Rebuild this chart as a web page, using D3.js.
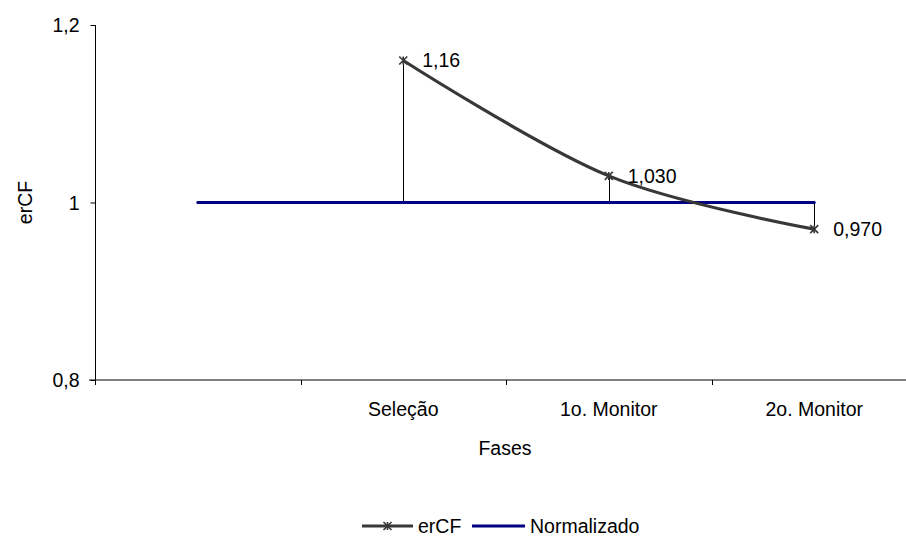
<!DOCTYPE html>
<html>
<head>
<meta charset="utf-8">
<script src="https://cdn.jsdelivr.net/npm/d3@7"></script>
<style>
  html, body { margin: 0; padding: 0; background: #fff; }
  svg { display: block; }
  text { font-family: "Liberation Sans", Arial, sans-serif; fill: #000; }
</style>
</head>
<body>
<svg id="chart" width="906" height="538"></svg>
<script>
// ---- data ----
const categories = ["", "Seleção", "1o. Monitor", "2o. Monitor"];
const erCF = [null, 1.16, 1.03, 0.97];
const normalizado = [1, 1, 1, 1];
const erCFLabels = [null, "1,16", "1,030", "0,970"];
const yTicks = [0.8, 1, 1.2];
const yTickLabels = ["0,8", "1", "1,2"];
const seriesNames = ["erCF", "Normalizado"];
const xTitle = "Fases";
const yTitle = "erCF";

// ---- layout ----
const svg = d3.select("#chart");
const fontSize = 19.5;
const colErcf = "#383838";
const colNorm = "#000080";

const x = d3.scaleBand().domain(categories).range([95, 917]).padding(0);
const cx = c => x(c) + x.bandwidth() / 2;
const y = d3.scaleLinear().domain([0.8, 1.2]).range([380, 25]);

// x axis line (gray)
svg.append("line")
  .attr("x1", 89).attr("x2", 917)
  .attr("y1", y(0.8)).attr("y2", y(0.8))
  .attr("stroke", "#808080").attr("stroke-width", 2);

// x ticks at band edges
svg.selectAll(".xtick").data(categories).enter().append("line")
  .attr("x1", d => Math.round(x(d)) + 0.5).attr("x2", d => Math.round(x(d)) + 0.5)
  .attr("y1", y(0.8)).attr("y2", y(0.8) + 5)
  .attr("stroke", "#000").attr("stroke-width", 1);

// y axis
const yAxis = d3.axisLeft(y).tickValues(yTicks).tickSize(5).tickPadding(10)
  .tickFormat((d, i) => yTickLabels[i]);
const gy = svg.append("g").attr("transform", "translate(95.5,0)").call(yAxis);
gy.select(".domain").attr("stroke", "#000").attr("d", `M0,${y(1.2)}V${y(0.8)}`);
gy.selectAll(".tick line").attr("stroke", "#000");
gy.selectAll(".tick text").attr("font-size", fontSize).attr("fill", "#000")
  .attr("font-family", "Liberation Sans, Arial, sans-serif")
  .attr("dy", "0.35em").attr("x", -16);

// category labels
svg.selectAll(".xlab").data(categories).enter().append("text")
  .attr("x", d => cx(d)).attr("y", 416)
  .attr("text-anchor", "middle").attr("font-size", fontSize)
  .text(d => d);

// axis titles
svg.append("text").attr("x", 505).attr("y", 455)
  .attr("text-anchor", "middle").attr("font-size", fontSize).text(xTitle);
svg.append("text")
  .attr("transform", `translate(32,${y(1)}) rotate(-90)`)
  .attr("text-anchor", "middle").attr("font-size", fontSize).text(yTitle);

// high-low lines
const hl = categories.map((c, i) => ({ c, a: erCF[i], b: normalizado[i] })).filter(d => d.a != null);
svg.selectAll(".hl").data(hl).enter().append("line")
  .attr("x1", d => Math.round(cx(d.c)) + 0.5).attr("x2", d => Math.round(cx(d.c)) + 0.5)
  .attr("y1", d => y(d.a)).attr("y2", d => y(d.b))
  .attr("stroke", "#000").attr("stroke-width", 1);

// Normalizado line
const normPts = categories.map((c, i) => [cx(c), y(normalizado[i])]);
svg.append("path")
  .attr("d", d3.line()(normPts))
  .attr("fill", "none").attr("stroke", colNorm).attr("stroke-width", 3)
  .attr("stroke-linecap", "round");

// erCF smooth line
const erPts = categories.map((c, i) => ({ c, v: erCF[i], lab: erCFLabels[i] })).filter(d => d.v != null);
svg.append("path")
  .attr("d", d3.line().x(d => cx(d.c)).y(d => y(d.v)).curve(d3.curveCardinal.tension(0))(erPts))
  .attr("fill", "none").attr("stroke", colErcf).attr("stroke-width", 3.2);

// star markers
function star(g, px, py, s) {
  const p = `M${px - s},${py - s}L${px + s},${py + s}M${px - s},${py + s}L${px + s},${py - s}M${px},${py - s}L${px},${py + s}`;
  g.append("path").attr("d", p).attr("stroke", colErcf).attr("stroke-width", 1.6).attr("fill", "none");
}
erPts.forEach(d => star(svg, cx(d.c), y(d.v), 4));

// data labels
svg.selectAll(".dl").data(erPts).enter().append("text")
  .attr("x", d => cx(d.c) + 19).attr("y", d => y(d.v))
  .attr("dy", "0.35em").attr("font-size", fontSize)
  .text(d => d.lab);

// legend
const ly = 526;
svg.append("line").attr("x1", 362).attr("x2", 413).attr("y1", ly).attr("y2", ly)
  .attr("stroke", colErcf).attr("stroke-width", 3.2);
star(svg, 387.5, ly, 4);
svg.append("text").attr("x", 418).attr("y", ly).attr("dy", "0.35em")
  .attr("font-size", fontSize).text(seriesNames[0]);
svg.append("line").attr("x1", 472).attr("x2", 525).attr("y1", ly).attr("y2", ly)
  .attr("stroke", colNorm).attr("stroke-width", 3);
svg.append("text").attr("x", 530).attr("y", ly).attr("dy", "0.35em")
  .attr("font-size", fontSize).text(seriesNames[1]);
</script>
</body>
</html>
